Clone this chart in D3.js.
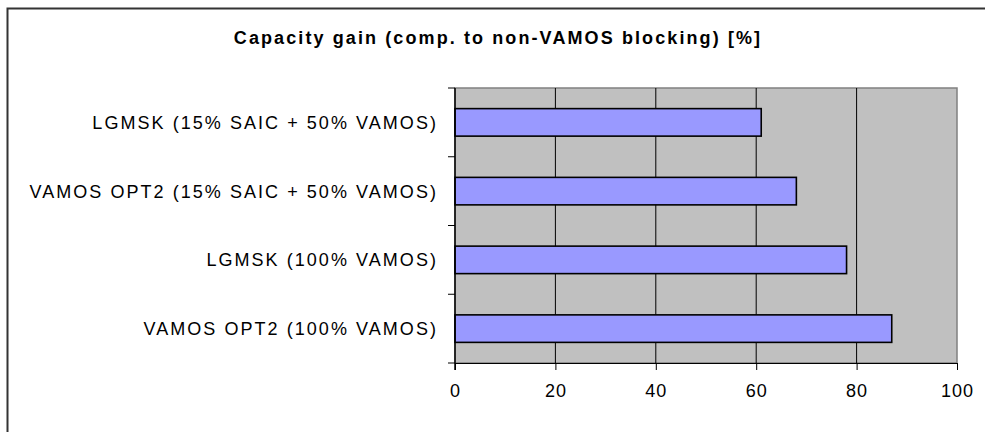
<!DOCTYPE html>
<html>
<head>
<meta charset="utf-8">
<script src="https://cdn.jsdelivr.net/npm/d3@7"></script>
<style>
  html, body { margin: 0; padding: 0; background: #fff; overflow: hidden; }
  svg { display: block; }
  text { font-family: "Liberation Sans", Arial, sans-serif; fill: #000; }
</style>
</head>
<body>
<div id="chart"></div>
<script>
// Capacity gain per scheme, top to bottom
const categories = [
  "LGMSK (15% SAIC + 50% VAMOS)",
  "VAMOS OPT2 (15% SAIC + 50% VAMOS)",
  "LGMSK (100% VAMOS)",
  "VAMOS OPT2 (100% VAMOS)"
];
const gainValues = [61, 68, 78, 87];
const xTicks = [0, 20, 40, 60, 80, 100];
const titleText = "Capacity gain (comp. to non-VAMOS blocking) [%]";

const W = 985, H = 432;
const plot = { left: 455, right: 957, top: 88, bottom: 363 };

const svg = d3.select("#chart").append("svg")
  .attr("width", W).attr("height", H);

// Outer chart frame: only the left and top edges fall inside the page
svg.append("path")
  .attr("d", `M7.5,${H} V8.5 H${W}`)
  .attr("fill", "none")
  .attr("stroke", "#333").attr("stroke-width", 2);

const x = d3.scaleLinear().domain([0, 100]).range([plot.left, plot.right]);
const yBand = d3.scaleBand().domain(categories).range([plot.top, plot.bottom]);
const barH = yBand.bandwidth() / 2.5;

// Plot background
svg.append("rect")
  .attr("x", plot.left).attr("y", plot.top)
  .attr("width", plot.right - plot.left).attr("height", plot.bottom - plot.top)
  .attr("fill", "#c0c0c0")
  .attr("stroke", "#808080").attr("stroke-width", 1.5);

// Vertical gridlines
svg.append("g").selectAll("line")
  .data(xTicks.filter(d => d > 0 && d < 100))
  .join("line")
  .attr("x1", d => x(d)).attr("x2", d => x(d))
  .attr("y1", plot.top).attr("y2", plot.bottom)
  .attr("stroke", "#000").attr("stroke-width", 1);

// Bars
svg.append("g").selectAll("rect")
  .data(categories)
  .join("rect")
  .attr("x", x(0))
  .attr("y", d => yBand(d) + yBand.bandwidth() / 2 - barH / 2)
  .attr("width", (d, i) => x(gainValues[i]) - x(0))
  .attr("height", barH)
  .attr("fill", "#9999ff")
  .attr("stroke", "#000").attr("stroke-width", 1.6);

// X axis
const xAxis = svg.append("g")
  .attr("transform", `translate(0,${plot.bottom})`)
  .call(d3.axisBottom(x).tickValues(xTicks).tickSize(7).tickPadding(14).tickSizeOuter(0));
xAxis.select(".domain").attr("stroke", "#000").attr("stroke-width", 1.2);
xAxis.selectAll(".tick line").attr("stroke", "#000");
xAxis.selectAll("text")
  .attr("font-size", 18).attr("letter-spacing", 1)
  .style("font-family", "'Liberation Sans', Arial, sans-serif");

// Y axis: ticks at band boundaries, labels centred on bars
const yAxis = svg.append("g").attr("transform", `translate(${plot.left},0)`);
yAxis.append("line")
  .attr("x1", 0).attr("x2", 0)
  .attr("y1", plot.top).attr("y2", plot.bottom + 7)
  .attr("stroke", "#000").attr("stroke-width", 1.5);
const boundaries = categories.map(d => yBand(d)).concat([plot.bottom]);
yAxis.selectAll(".btick")
  .data(boundaries)
  .join("line")
  .attr("class", "btick")
  .attr("x1", -7).attr("x2", 0)
  .attr("y1", d => d).attr("y2", d => d)
  .attr("stroke", "#000").attr("stroke-width", 1);
yAxis.selectAll(".ylabel")
  .data(categories)
  .join("text")
  .attr("class", "ylabel")
  .attr("x", -17)
  .attr("y", d => yBand(d) + yBand.bandwidth() / 2)
  .attr("dy", "0.36em")
  .attr("text-anchor", "end")
  .attr("font-size", 18)
  .attr("letter-spacing", 2.05)
  .text(d => d);

// Title
svg.append("text")
  .attr("x", 498).attr("y", 44)
  .attr("text-anchor", "middle")
  .attr("font-size", 18)
  .attr("font-weight", "bold")
  .attr("letter-spacing", 2.1)
  .text(titleText);
</script>
</body>
</html>
